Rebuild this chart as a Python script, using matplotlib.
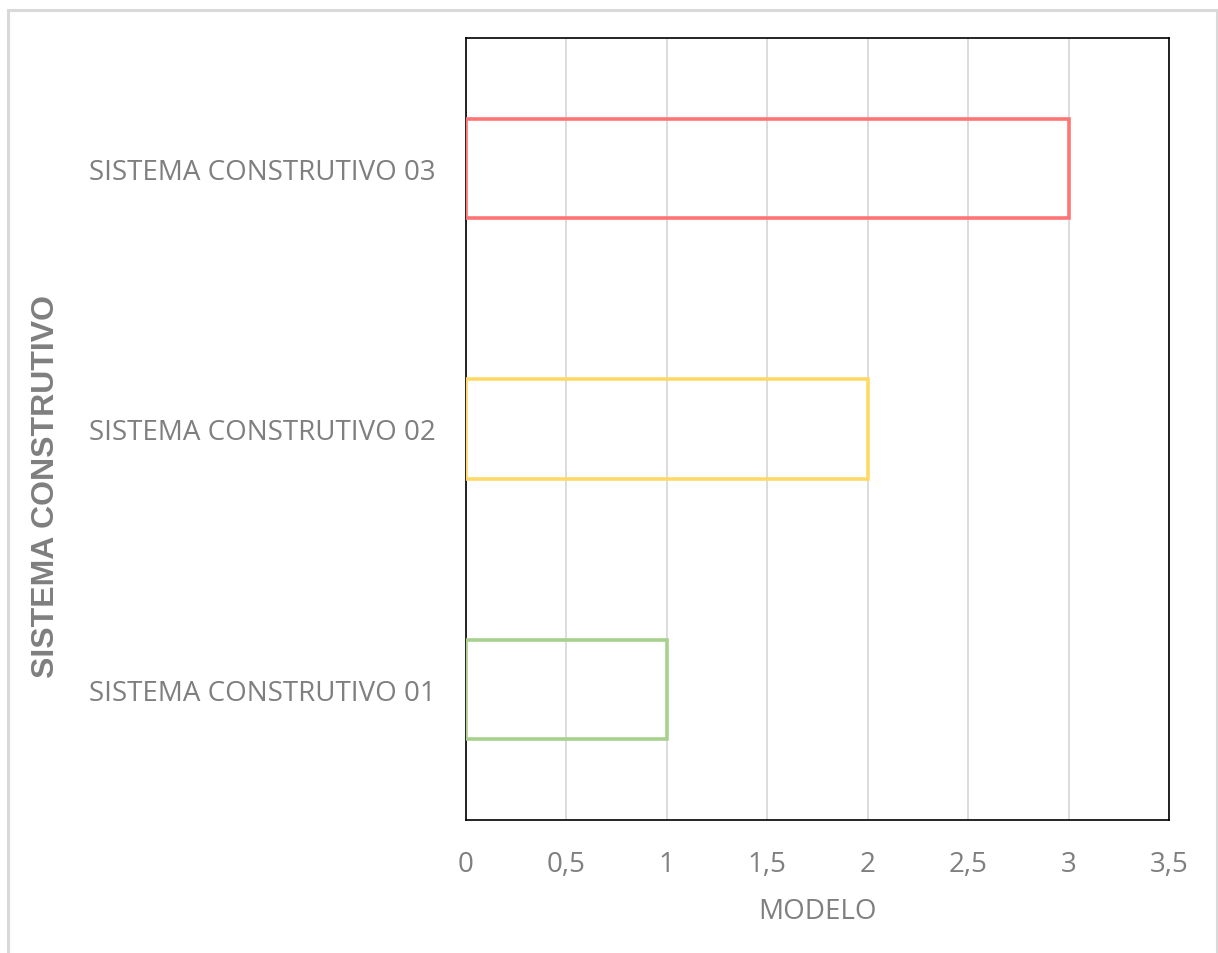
import matplotlib
matplotlib.use("Agg")
import matplotlib.pyplot as plt
from matplotlib.patches import Rectangle

categories = ["SISTEMA CONSTRUTIVO 01", "SISTEMA CONSTRUTIVO 02", "SISTEMA CONSTRUTIVO 03"]
values = [1, 2, 3]
edge_colors = ["#A9D18E", "#FFD966", "#FF7575"]
x_ticks = [0, 0.5, 1, 1.5, 2, 2.5, 3, 3.5]
x_tick_labels = ["0", "0,5", "1", "1,5", "2", "2,5", "3", "3,5"]

W, H = 1218, 954
fig = plt.figure(figsize=(W / 100, H / 100), dpi=100)

# outer chart border
fig.patches.append(Rectangle((7.5 / W, -0.05), (1209.5) / W, 1 - 10.5 / H + 0.05,
                             transform=fig.transFigure, fill=False,
                             edgecolor="#D9D9D9", linewidth=2.2))

left, right, top, bottom = 466, 1169, 39, 821
ax = fig.add_axes([left / W, 1 - bottom / H, (right - left) / W, (bottom - top) / H])

ax.barh(range(len(categories)), values, height=0.38, fill=False,
        edgecolor=edge_colors, linewidth=2.6, zorder=3)

ax.set_xlim(0, 3.5)
ax.set_ylim(-0.5, len(categories) - 0.5)
ax.set_xticks(x_ticks)
ax.set_xticklabels(x_tick_labels)
ax.set_yticks(range(len(categories)))
ax.set_yticklabels(categories)
ax.grid(axis="x", color="#D9D9D9", linewidth=1.3, zorder=0)
ax.set_axisbelow(True)
ax.tick_params(length=0, labelsize=20, colors="#7F7F7F")
ax.tick_params(axis="x", pad=21.5)
ax.tick_params(axis="y", pad=22)
for lbl in ax.get_xticklabels() + ax.get_yticklabels():
    lbl.set_fontfamily("Open Sans")
for s in ax.spines.values():
    s.set_color("black")
    s.set_linewidth(1.2)

ax.set_xlabel("MODELO", fontsize=20, color="#7F7F7F", family="Open Sans", labelpad=14)
fig.text(46 / W, 1 - 486 / H, "SISTEMA CONSTRUTIVO", rotation=90, ha="center", va="center",
         fontsize=23, color="#7F7F7F", family="Liberation Sans", fontweight="bold")

fig.savefig("out.png", dpi=100)
